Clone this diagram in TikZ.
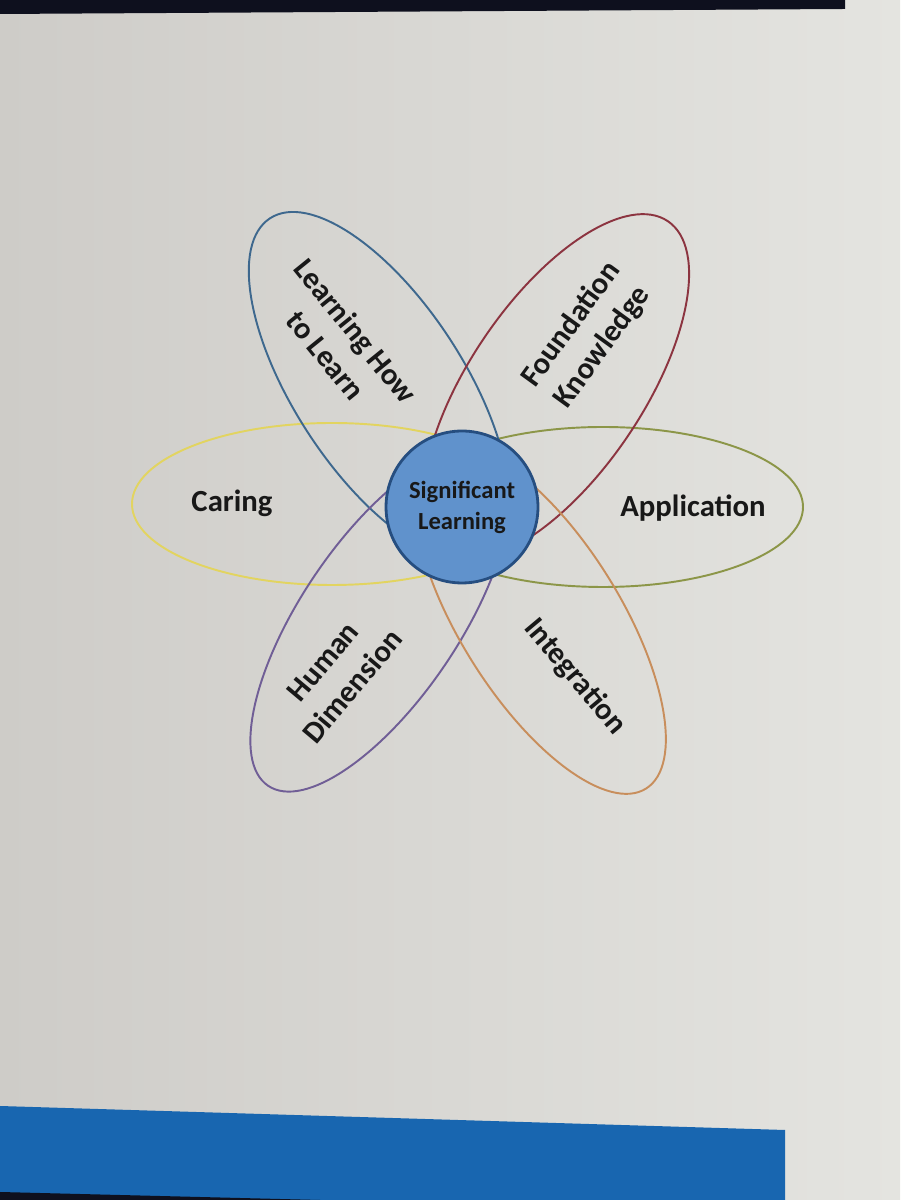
\documentclass[tikz,border=0pt]{standalone}
\usepackage{fontspec}
\setmainfont{Carlito}
\usepackage{tikz}
\usetikzlibrary{shapes}
\definecolor{screengray}{RGB}{240,240,236}
\definecolor{screenedge}{RGB}{206,204,200}
\definecolor{screenright}{RGB}{228,228,224}
\definecolor{bezel}{RGB}{14,16,30}
\definecolor{barblue}{RGB}{24,102,176}
\definecolor{sigblue}{RGB}{96,146,204}
\definecolor{sigedge}{RGB}{38,78,128}
\definecolor{lhlblue}{RGB}{62,104,142}
\definecolor{fkred}{RGB}{140,52,64}
\definecolor{caringyellow}{RGB}{226,212,96}
\definecolor{appgreen}{RGB}{140,150,72}
\definecolor{hdpurple}{RGB}{112,94,150}
\definecolor{integorange}{RGB}{200,142,92}
\definecolor{inkblack}{RGB}{24,24,24}
\tikzset{node distance=2cm, auto}

\begin{document}
\begin{tikzpicture}[x=0.02cm, y=0.02cm,
  petal/.style={line width=1.1pt},
  petaltext/.style={text=inkblack, align=center, font=\fontsize{17.5}{22}\selectfont\bfseries}]
\useasboundingbox (0,0) rectangle (900,1200);

% screen and its edges
\shade[left color=screenedge, middle color=screengray, right color=screenright] (0,0) rectangle (900,1200);
\fill[bezel] (0,1200) -- (845,1200) -- (845,1191) -- (0,1186) -- cycle;
\fill[barblue] (0,0) -- (0,94) -- (785,70) -- (785,0) -- cycle;
\fill[bezel] (0,0) -- (320,0) -- (0,8) -- cycle;

% the six ellipses
\draw[petal, draw=caringyellow] (332,696) ellipse (200 and 81);
\draw[petal, draw=appgreen] (603,693) ellipse (200 and 80);
\draw[petal, draw=lhlblue, rotate around={-57:(379,814)}] (379,814) ellipse (200 and 85);
\draw[petal, draw=fkred, rotate around={56:(556,813)}] (556,813) ellipse (200 and 87);
\draw[petal, draw=hdpurple, rotate around={56:(380,580)}] (380,580) ellipse (200 and 79);
\draw[petal, draw=integorange, rotate around={-58:(540,581)}] (540,581) ellipse (200 and 80);

% centre
\node[circle, draw=sigedge, fill=sigblue, line width=1.6pt, minimum size=3.04cm, inner sep=0pt,
  text=inkblack, align=center, font=\fontsize{14}{17.6}\selectfont\bfseries] (sig) at (462,693) {Significant\\Learning};

\node[petaltext] (caring) at (232,697) {Caring};
\node[petaltext] (application) at (693,692) {Application};
\node[petaltext, rotate=-51] (lhl) at (341,857) {Learning How\\to Learn};
\node[petaltext, rotate=54] (fk) at (587,864) {Foundation\\Knowledge};
\node[petaltext, rotate=50] (hd) at (338,526) {Human\\Dimension};
\node[petaltext, rotate=-50] (integ) at (575,523) {Integration};

\end{tikzpicture}
\end{document}
